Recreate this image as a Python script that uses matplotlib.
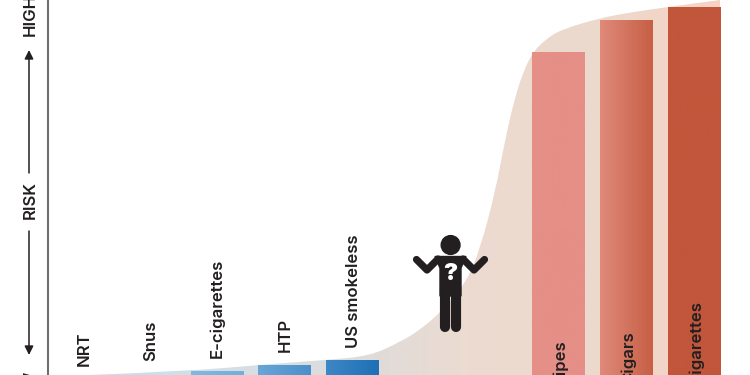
import numpy as np
import matplotlib
matplotlib.use("Agg")
import matplotlib.pyplot as plt
from matplotlib.colors import LinearSegmentedColormap
from matplotlib.patches import Circle, FancyArrowPatch, PathPatch
from matplotlib.path import Path

plt.rcParams['font.family'] = ['Inter', 'DejaVu Sans']

W, H = 750, 375

# products and their risk (picture height above the bottom edge)
products = ['NRT', 'Snus', 'E-cigarettes', 'HTP', 'US smokeless', 'Pipes', 'Cigars', 'Cigarettes']
risk = [0, 0, 4, 10, 15, 323, 355, 368]
bar_left = [55, 123, 191, 258, 326, 532, 600, 668]
bar_width = 53
bar_colors = [
    ('#a8d0ea', '#a8d0ea'), ('#9ccae8', '#9ccae8'), ('#7fb9e0', '#6fb0dc'),
    ('#68a6d6', '#4a90cb'), ('#3f87c5', '#1c70b6'),
    ('#e58f87', '#e58f87'), ('#e08a7a', '#c65f45'), ('#c1563b', '#c1563b'),
]
# label position: x centre, y of the text start
label_x = [84.5, 151, 217, 285.5, 353.5, 560, 628, 696]
label_y = [9, 14, 17, 23, 27, -9, -9, -10]

# risk curve behind the bars
curve_x = [90, 190, 258, 326, 370, 400, 420, 443, 467, 480, 495, 505, 515, 524, 533,
           545, 560, 600, 633, 668, 720]
curve_y = [0, 4, 10, 15, 19, 33, 45, 65, 94, 126, 182, 235, 278, 305, 323,
           335, 345, 357, 363, 368, 375]
curve_stops = ['#c2dfef', '#d5dfe5', '#dcdcdc', '#ecdbd1', '#edd9cd', '#f6d3c4']


def gradient(ax, c_list, extent, clip):
    cmap = LinearSegmentedColormap.from_list('g', c_list)
    im = ax.imshow(np.linspace(0, 1, 256).reshape(1, -1), cmap=cmap, extent=extent,
                   aspect='auto', zorder=clip.get_zorder())
    im.set_clip_path(clip)


def smooth_area(xs, ys):
    # quadratic curve through the read points, closed along the bottom edge
    verts = [(xs[0], ys[0])]
    codes = [Path.MOVETO]
    for i in range(1, len(xs) - 1):
        verts += [(xs[i], ys[i]), ((xs[i] + xs[i + 1]) / 2, (ys[i] + ys[i + 1]) / 2)]
        codes += [Path.CURVE3, Path.CURVE3]
    verts += [(xs[-1], ys[-1]), (xs[-1], 0), (xs[0], 0), (xs[0], ys[0])]
    codes += [Path.LINETO, Path.LINETO, Path.LINETO, Path.CLOSEPOLY]
    return Path(verts, codes)


fig = plt.figure(figsize=(7.5, 3.75), dpi=100)
ax = fig.add_axes([0, 0, 1, 1])

# area
area = ax.add_patch(PathPatch(smooth_area(curve_x, curve_y), facecolor='none', edgecolor='none', zorder=1))
gradient(ax, curve_stops, (90, 720, 0, H), area)

# bars
bars = ax.bar(bar_left, risk, width=bar_width, align='edge', facecolor='none', edgecolor='none', zorder=2)
for b, cols in zip(bars, bar_colors):
    if b.get_height() > 0:
        gradient(ax, list(cols), (b.get_x(), b.get_x() + bar_width, 0, b.get_height()), b)

for name, x, y in zip(products, label_x, label_y):
    ax.text(x, y, name, rotation=90, ha='center', va='bottom', fontsize=12,
            fontweight='semibold', color='#231f20', zorder=5)

# left axis with the risk scale
ax.plot([48, 48], [0, H], color='#6d6e70', lw=1.5, zorder=3)
ax.text(30.5, H - 200, 'RISK', rotation=90, ha='center', va='center', fontsize=12,
        fontweight='semibold', color='#231f20')
ax.text(30.5, H - 36, 'HIGH', rotation=90, ha='center', va='bottom', fontsize=12,
        fontweight='semibold', color='#231f20')
ax.text(30.5, 5, 'LOW', rotation=90, ha='center', va='top', fontsize=12,
        fontweight='semibold', color='#231f20')
for y0, y1 in [(H - 173, H - 50), (H - 231, H - 355)]:
    ax.add_patch(FancyArrowPatch((29, y0), (29, y1), arrowstyle='-|>', mutation_scale=13,
                                 shrinkA=0, shrinkB=0, lw=1.1, color='#231f20', zorder=3))

# person with the question mark
ink = '#231f20'
ax.add_patch(Circle((450.6, H - 245), 9.4, color=ink, zorder=6))
ax.fill([435, 466, 461, 461, 440, 440], [H - 256.5, H - 256.5, H - 268, H - 296, H - 296, H - 268],
        color=ink, zorder=6)
for xs in ([416.5, 427, 438], [484.5, 474, 463]):
    ax.plot(xs, [H - 259.5, H - 270, H - 259], color=ink, lw=5.2, solid_capstyle='round',
            solid_joinstyle='round', zorder=6)
for x in (444.6, 456.2):
    ax.plot([x, x], [H - 290, H - 326.5], color=ink, lw=7.3, solid_capstyle='round', zorder=6)
ax.text(450.4, H - 274, '?', ha='center', va='center', fontsize=17, fontweight='black',
        color='white', zorder=7)

ax.set_xlim(0, W)
ax.set_ylim(0, H)
ax.axis('off')

fig.savefig('out.png', dpi=100)
